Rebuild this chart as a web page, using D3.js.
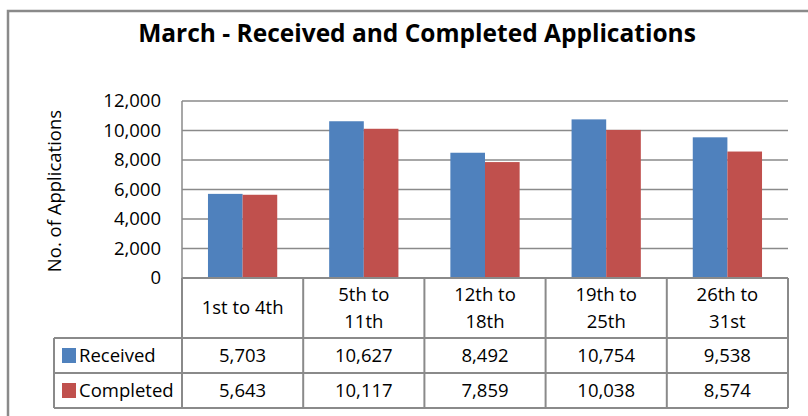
<!DOCTYPE html>
<html>
<head>
<meta charset="utf-8">
<script src="https://cdn.jsdelivr.net/npm/d3@7"></script>
<style>
body { margin: 0; background: #fff; }
svg { display: block; font-family: "Open Sans", Lato, sans-serif; }
</style>
</head>
<body>
<div id="chart"></div>
<script>
// chart data
var categories = ['1st to 4th', '5th to 11th', '12th to 18th', '19th to 25th', '26th to 31st'];
var categoryLines = [['1st to 4th'], ['5th to', '11th'], ['12th to', '18th'], ['19th to', '25th'], ['26th to', '31st']];
var seriesNames = ['Received', 'Completed'];
var received = [5703, 10627, 8492, 10754, 9538];
var completed = [5643, 10117, 7859, 10038, 8574];
var yTicks = [0, 2000, 4000, 6000, 8000, 10000, 12000];
var colors = ['#4f81bd', '#c0504d'];

var svgWidth = 808;
var svgHeight = 416;
var plot = {left: 182, right: 788, top: 101, bottom: 278};
var rowH = [60, 35, 35];
var legendLeft = 54;
var gray = '#8a8a8a';
var fs = '18.5px';

var svg = d3.select('#chart')
	.append('svg')
	.attr('width', svgWidth)
	.attr('height', svgHeight);

// outer chart border
svg.append('path')
	.attr('d', 'M8,' + (svgHeight + 5) + 'V11H' + (svgWidth + 5))
	.attr('fill', 'none')
	.attr('stroke', gray)
	.attr('stroke-width', 2.5);

// title
svg.append('text')
	.attr('x', 417)
	.attr('y', 42)
	.attr('text-anchor', 'middle')
	.style('font-size', '24.5px')
	.style('font-weight', 'bold')
	.style('fill', '#000')
	.text('March - Received and Completed Applications');

// scales
var x = d3.scaleBand()
	.domain(categories)
	.range([plot.left, plot.right])
	.padding(0);
var xSub = d3.scaleBand()
	.domain(seriesNames)
	.range([0, x.bandwidth()])
	.paddingInner(0)
	.paddingOuter(0.75);
var y = d3.scaleLinear()
	.domain([0, 12000])
	.range([plot.bottom, plot.top]);

// gridlines
svg.append('g')
	.selectAll('line')
	.data(yTicks.slice(1))
	.enter()
	.append('line')
	.attr('x1', plot.left)
	.attr('x2', plot.right)
	.attr('y1', d => y(d))
	.attr('y2', d => y(d))
	.attr('stroke', gray)
	.attr('stroke-width', 1.5);

// y axis line + labels
svg.append('line')
	.attr('x1', plot.left).attr('x2', plot.left)
	.attr('y1', plot.top).attr('y2', plot.bottom)
	.attr('stroke', gray).attr('stroke-width', 1.5);
svg.append('g')
	.selectAll('text')
	.data(yTicks)
	.enter()
	.append('text')
	.attr('x', 161)
	.attr('y', d => y(d) + 6)
	.attr('text-anchor', 'end')
	.style('font-size', fs)
	.style('fill', '#000')
	.text(d => d3.format(',')(d));

// y axis title
svg.append('text')
	.attr('transform', 'translate(61,191) rotate(-90)')
	.attr('text-anchor', 'middle')
	.style('font-size', fs)
	.style('fill', '#000')
	.text('No. of Applications');

// bars
var values = [received, completed];
seriesNames.forEach(function (s, i) {
	svg.append('g')
		.selectAll('rect')
		.data(values[i])
		.enter()
		.append('rect')
		.attr('x', (d, j) => x(categories[j]) + xSub(s))
		.attr('y', d => y(d))
		.attr('width', xSub.bandwidth())
		.attr('height', d => y(0) - y(d))
		.attr('fill', colors[i]);
});

// data table
var t = svg.append('g');
var y0 = plot.bottom, y1 = y0 + rowH[0], y2 = y1 + rowH[1], y3 = y2 + rowH[2];
var hLines = [[plot.left, plot.right, y0], [legendLeft, plot.right, y1], [legendLeft, plot.right, y2], [legendLeft, plot.right, y3]];
t.selectAll('line.h')
	.data(hLines)
	.enter()
	.append('line')
	.attr('x1', d => d[0]).attr('x2', d => d[1])
	.attr('y1', d => d[2]).attr('y2', d => d[2])
	.attr('stroke', gray).attr('stroke-width', 2);
var vLines = [[legendLeft, y1, y3]].concat(categories.map(c => [x(c), y0, y3])).concat([[plot.right, y0, y3]]);
t.selectAll('line.v')
	.data(vLines)
	.enter()
	.append('line')
	.attr('x1', d => d[0]).attr('x2', d => d[0])
	.attr('y1', d => d[1]).attr('y2', d => d[2])
	.attr('stroke', gray).attr('stroke-width', 2);

// header labels
categoryLines.forEach(function (lines, j) {
	var cx = x(categories[j]) + x.bandwidth() / 2;
	var mid = (y0 + y1) / 2;
	lines.forEach(function (ln, k) {
		t.append('text')
			.attr('x', cx)
			.attr('y', mid + (k - (lines.length - 1) / 2) * 27 + 6)
			.attr('text-anchor', 'middle')
			.style('font-size', fs)
			.style('fill', '#000')
			.text(ln);
	});
});

// legend column + values
var rowTops = [y1, y2];
seriesNames.forEach(function (s, i) {
	var mid = (rowTops[i] + rowTops[i] + rowH[i + 1]) / 2;
	t.append('rect')
		.attr('x', 62)
		.attr('y', mid - 7.5)
		.attr('width', 14)
		.attr('height', 15)
		.attr('fill', colors[i]);
	t.append('text')
		.attr('x', 79)
		.attr('y', mid + 6)
		.style('font-size', fs)
		.style('fill', '#000')
		.text(s);
	t.append('g')
		.selectAll('text')
		.data(values[i])
		.enter()
		.append('text')
		.attr('x', (d, j) => x(categories[j]) + x.bandwidth() / 2)
		.attr('y', mid + 6)
		.attr('text-anchor', 'middle')
		.style('font-size', fs)
		.style('fill', '#000')
		.text(d => d3.format(',')(d));
});
</script>
</body>
</html>
